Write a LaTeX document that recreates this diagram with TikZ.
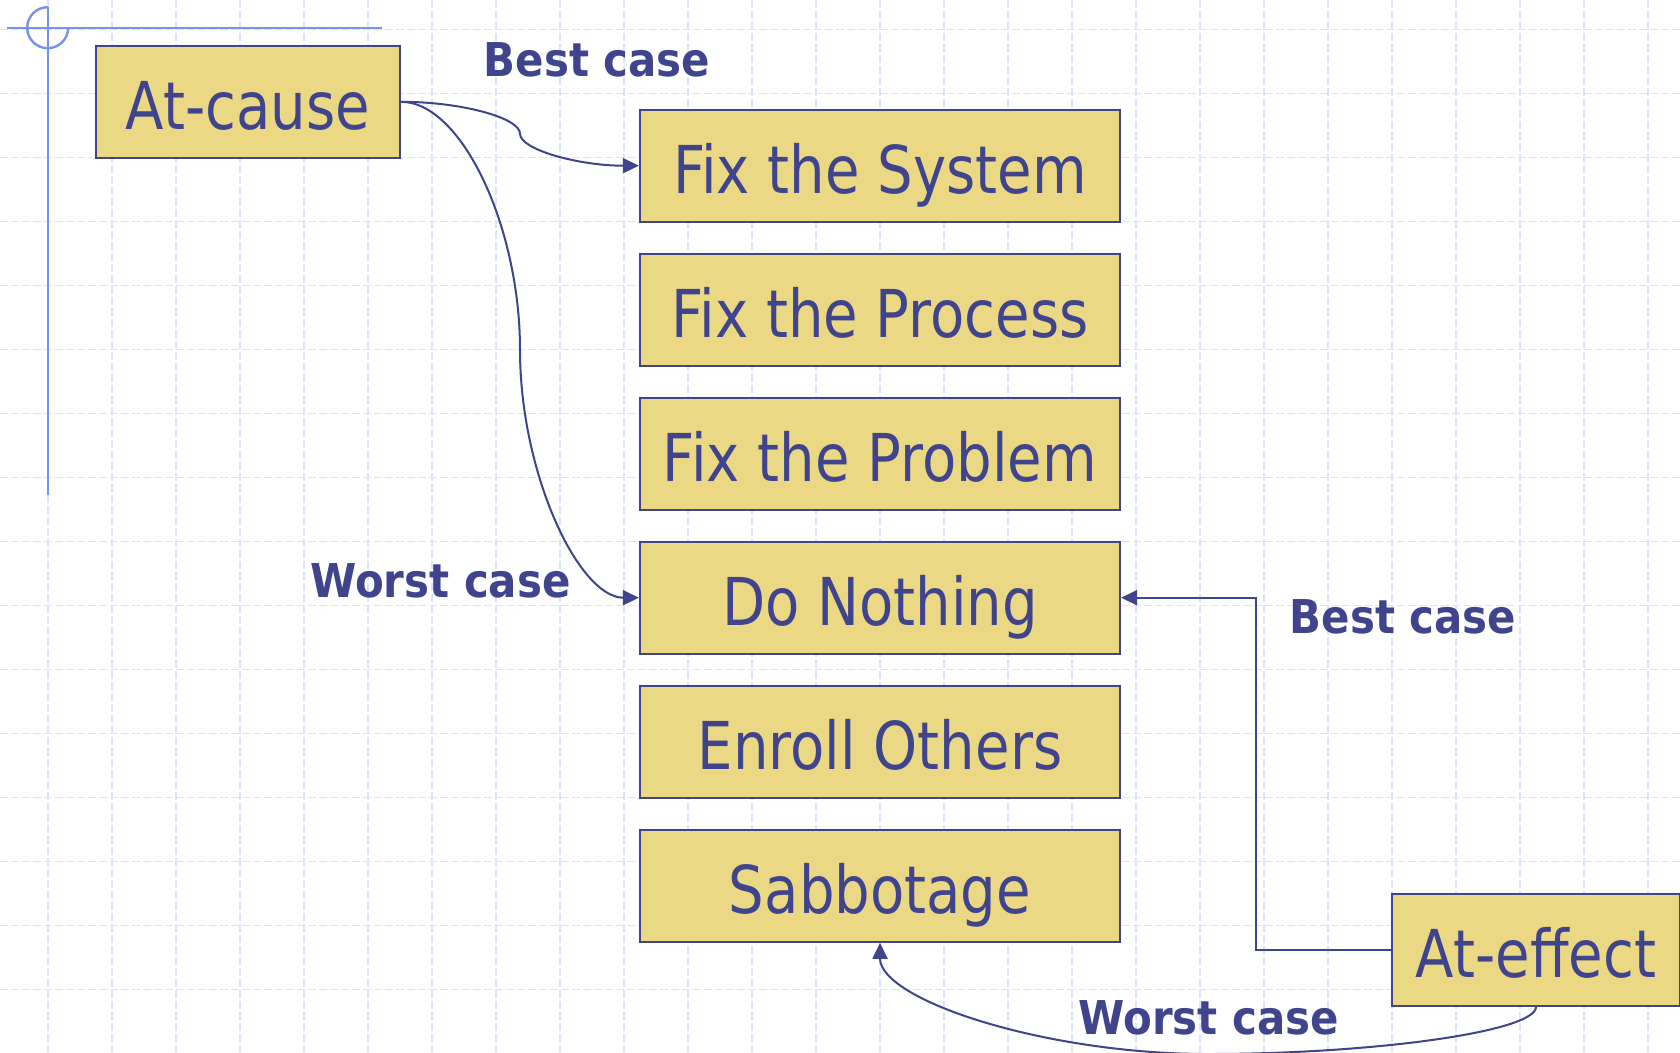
\documentclass[tikz,border=0pt]{standalone}
\usepackage{fontspec}
\usetikzlibrary{arrows.meta,calc}
\newfontfamily\boxfont{DejaVu Sans}[FakeStretch=0.85]
\newfontfamily\labfont{DejaVu Sans}[FakeStretch=0.9]
\definecolor{ink}{RGB}{63,68,140}
\definecolor{boxfill}{RGB}{235,216,133}
\definecolor{gridblue}{RGB}{220,227,252}
\definecolor{markblue}{RGB}{118,146,240}
\tikzset{
  box/.style={draw=ink, line width=2.2pt, fill=boxfill, text=ink,
    inner xsep=0pt, inner ysep=0pt, text height=83.6pt, text depth=28.4pt,
    minimum width=480pt, font=\boxfont\fontsize{66}{70}\selectfont},
  lab/.style={text=ink, inner sep=0pt, anchor=base,
    font=\labfont\bfseries\fontsize{46.6}{50}\selectfont},
  conn/.style={draw=ink, line width=2pt, -{Triangle[length=16pt,width=15pt]}},
  gridline/.style={draw=gridblue, line width=1.4pt, dash pattern=on 8pt off 3pt},
  markline/.style={draw=markblue, line width=2.4pt}
}
\begin{document}
\begin{tikzpicture}[x=1pt,y=-1pt]
\useasboundingbox (0,0) rectangle (1680,1052);
\fill[white] (0,0) rectangle (1680,1052);

% dashed background grid
\foreach \i in {0,...,25} {
  \draw[gridline] ({48+64*\i},0) -- ({48+64*\i},1052);
}
\foreach \j in {0,...,15} {
  \draw[gridline] (0,{29.7+64*\j}) -- (1680,{29.7+64*\j});
}

% corner register mark
\draw[markline] (7,27.7) -- (382,27.7);
\draw[markline] (47.7,7.2) -- (47.7,495);
\draw[markline] (47.7,7.2) arc[start angle=270, end angle=0, radius=20.5];

% boxes
\node[box, minimum width=304pt] (cause) at (248,101.8) {At-cause};
\node[box] (sys)     at (880,165.7) {Fix the System};
\node[box] (proc)    at (880,309.7) {Fix the Process};
\node[box] (prob)    at (880,453.7) {Fix the Problem};
\node[box] (nothing) at (880,597.7) {Do Nothing};
\node[box] (enroll)  at (880,741.7) {Enroll Others};
\node[box] (sab)     at (880,885.7) {Sabbotage};
\node[box, minimum width=288pt] (effect) at (1536,949.7) {At-effect};

% labels
\node[lab] (bestA)  at (597,76.7)    {Best case};
\node[lab] (worstA) at (440.5,597.3) {Worst case};
\node[lab] (bestB)  at (1403,633.3)  {Best case};
\node[lab] (worstB) at (1208.7,1034.3) {Worst case};

% connectors from At-cause
\coordinate (m1) at ($(cause.east)!0.5!(sys.west)$);
\draw[conn] (cause.east) .. controls ($(cause.east)+(60,0)$) and ($(m1)+(0,-16)$) .. (m1)
  .. controls ($(m1)+(0,16)$) and ($(sys.west)+(-60,0)$) .. (sys.west);
\coordinate (m2) at ($(cause.east)!0.5!(nothing.west)$);
\draw[conn] (cause.east) .. controls ($(cause.east)+(60,0)$) and ($(m2)+(0,-124)$) .. (m2)
  .. controls ($(m2)+(0,124)$) and ($(nothing.west)+(-60,0)$) .. (nothing.west);

% connectors from At-effect
\coordinate (m3) at ($(effect.west)!0.5!(nothing.east)$);
\draw[conn] (effect.west) -- (effect.west -| m3) |- (nothing.east);
\coordinate (m4) at ($(effect.south)!0.5!(sab.south)$);
\coordinate (low) at (m4 |- 0,1054);
\draw[conn] (effect.south) .. controls ($(effect.south)+(0,25)$) and ($(low)+(164,0)$) .. (low)
  .. controls ($(low)+(-164,0)$) and ($(sab.south)+(0,57)$) .. (sab.south);
\end{tikzpicture}
\end{document}
